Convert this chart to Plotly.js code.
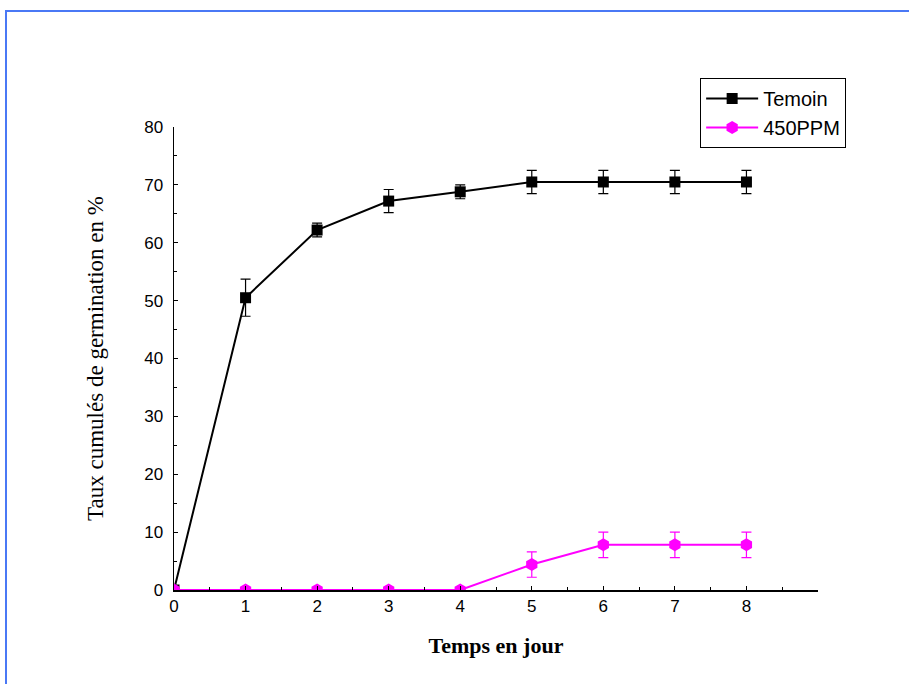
<!DOCTYPE html>
<html>
<head>
<meta charset="utf-8">
<script src="https://cdn.plot.ly/plotly-3.0.1.min.js"></script>
<style>
html,body{margin:0;padding:0;background:#fff;overflow:hidden;width:911px;height:684px;}
#chart{position:absolute;left:0;top:0;width:911px;height:684px;}
#ftop{position:absolute;left:5px;top:10px;width:904px;height:2px;background:#4a78f5;pointer-events:none;}
#fleft{position:absolute;left:5px;top:10px;width:2px;height:674px;background:#4a78f5;pointer-events:none;}
</style>
</head>
<body>
<div id="chart"></div>
<div id="ftop"></div>
<div id="fleft"></div>
<script>
var days = [0, 1, 2, 3, 4, 5, 6, 7, 8];
var temoin = [0, 50.5, 62.2, 67.2, 68.8, 70.5, 70.5, 70.5, 70.5];
var temoinErr = [0, 3.2, 1.2, 2.0, 1.2, 2.0, 2.0, 2.0, 2.0];
var ppm450 = [0, 0, 0, 0, 0, 4.4, 7.8, 7.8, 7.8];
var ppm450Err = [0, 0, 0, 0, 0, 2.2, 2.2, 2.2, 2.2];
var xTicks = [0, 1, 2, 3, 4, 5, 6, 7, 8];
var yTicks = [0, 10, 20, 30, 40, 50, 60, 70, 80];

var traces = [
  {
    x: days, y: temoin, name: 'Temoin', type: 'scatter', mode: 'lines+markers',
    line: {color: '#000000', width: 2},
    marker: {symbol: 'square', size: 11, color: '#000000'},
    error_y: {type: 'data', array: temoinErr, visible: true, color: '#000000', thickness: 1.2, width: 5}
  },
  {
    x: days, y: ppm450, name: '450PPM', type: 'scatter', mode: 'lines+markers',
    line: {color: '#ff00ff', width: 2},
    marker: {symbol: 'hexagon', size: 13, color: '#ff00ff'},
    error_y: {type: 'data', array: ppm450Err, visible: true, color: '#ff00ff', thickness: 1.2, width: 5}
  }
];

var layout = {
  width: 911, height: 684,
  margin: {l: 174, r: 93, t: 127, b: 94, pad: 0},
  paper_bgcolor: '#ffffff', plot_bgcolor: '#ffffff',
  showlegend: true,
  legend: {
    x: 0.817, y: 1.106, xanchor: 'left', yanchor: 'top',
    bgcolor: '#ffffff', bordercolor: '#000000', borderwidth: 1,
    font: {family: 'Liberation Sans, Arial, sans-serif', size: 20, color: '#000'},
    tracegroupgap: 0, itemwidth: 52
  },
  xaxis: {
    range: [0, 9], tickmode: 'array', tickvals: xTicks, ticktext: xTicks.map(String),
    showgrid: false, zeroline: false, showline: true, linecolor: '#000', linewidth: 1.5,
    ticks: 'inside', ticklen: 4, tickcolor: '#000',
    minor: {dtick: 0.5, ticks: 'inside', ticklen: 3, tickcolor: '#000', showgrid: false},
    tickfont: {family: 'Liberation Sans, Arial, sans-serif', size: 17, color: '#000'},
    title: {text: 'Temps en jour', standoff: 22,
      font: {family: 'Liberation Serif, Times New Roman, serif', size: 22, color: '#000', weight: 'bold'}}
  },
  yaxis: {
    range: [0, 80], tickmode: 'array', tickvals: yTicks, ticktext: yTicks.map(String),
    showgrid: false, zeroline: false, showline: true, linecolor: '#000', linewidth: 1.5,
    ticks: 'inside', ticklen: 4, tickcolor: '#000',
    minor: {dtick: 5, ticks: 'inside', ticklen: 3, tickcolor: '#000', showgrid: false},
    tickfont: {family: 'Liberation Sans, Arial, sans-serif', size: 17, color: '#000'},
    ticklabelstandoff: 6,
    title: {text: 'Taux cumulés de germination en %', standoff: 34,
      font: {family: 'Liberation Serif, Times New Roman, serif', size: 23, color: '#000'}}
  }
};

Plotly.newPlot('chart', traces, layout, {displayModeBar: false, staticPlot: true});
</script>
</body>
</html>
